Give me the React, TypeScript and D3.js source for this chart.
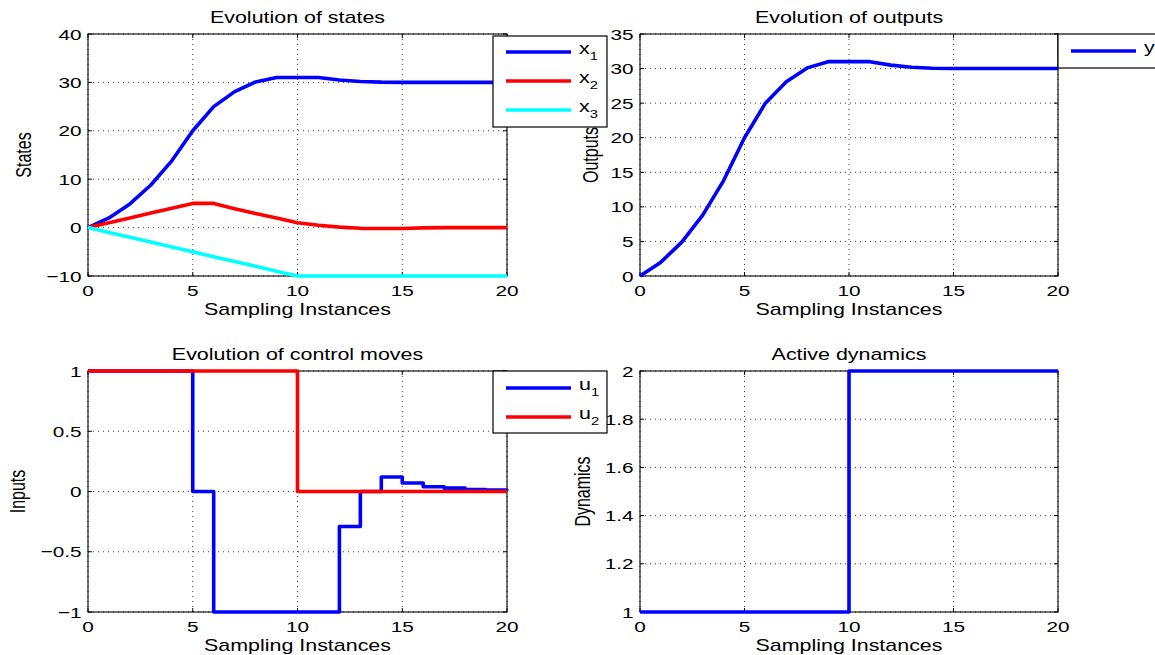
import * as d3 from "d3";
import React, { useEffect, useRef } from "react";

// sampling instances 0..20
const steps = d3.range(0, 21);

// states
const stateX1 = [0, 2, 4.9, 8.8, 13.8, 20, 25, 28.1, 30.1, 31, 31, 31, 30.5, 30.2, 30.05, 30, 30, 30, 30, 30, 30];
const stateX2 = [0, 1, 2, 3, 4, 5, 5, 3.9, 2.9, 2, 1, 0.5, 0.1, -0.15, -0.2, -0.2, -0.05, 0, 0, 0, 0];
const stateX3 = [0, -1, -2, -3, -4, -5, -6, -7, -8, -9, -10, -10, -10, -10, -10, -10, -10, -10, -10, -10, -10];

// outputs
const outputY = [0, 2, 4.9, 8.8, 13.8, 20, 25, 28.1, 30.1, 31, 31, 31, 30.5, 30.2, 30.05, 30, 30, 30, 30, 30, 30];

// control moves
const inputU1 = [1, 1, 1, 1, 1, 0, -1, -1, -1, -1, -1, -1, -0.29, 0, 0.12, 0.07, 0.04, 0.028, 0.017, 0.011, 0.008];
const inputU2 = [1, 1, 1, 1, 1, 1, 1, 1, 1, 1, 0, 0, 0, 0, 0, 0, 0, 0, 0, 0, 0];

// active dynamics
const activeDyn = [1, 1, 1, 1, 1, 1, 1, 1, 1, 1, 2, 2, 2, 2, 2, 2, 2, 2, 2, 2, 2];

const xTicks = [0, 5, 10, 15, 20];
const statesTicks = [-10, 0, 10, 20, 30, 40];
const outputsTicks = [0, 5, 10, 15, 20, 25, 30, 35];
const inputsTicks = [-1, -0.5, 0, 0.5, 1];
const dynTicks = [1, 1.2, 1.4, 1.6, 1.8, 2];

const FONT = "'Liberation Sans', Arial, Helvetica, sans-serif";
const SX = 1.34; // the original figure is stretched horizontally

const panels = [
  {
    title: "Evolution of states", ylabel: "States", labelOff: 57,
    left: 88, right: 507, top: 34, bottom: 276,
    domain: [-10, 40], ticks: statesTicks, step: false,
    series: [
      { values: stateX1, color: "#0000ff" },
      { values: stateX2, color: "#ff0000" },
      { values: stateX3, color: "#00ffff" },
    ],
  },
  {
    title: "Evolution of outputs", ylabel: "Outputs", labelOff: 42,
    left: 640, right: 1058, top: 34, bottom: 276,
    domain: [0, 35], ticks: outputsTicks, step: false,
    series: [{ values: outputY, color: "#0000ff" }],
  },
  {
    title: "Evolution of control moves", ylabel: "Inputs", labelOff: 63,
    left: 88, right: 507, top: 371, bottom: 612,
    domain: [-1, 1], ticks: inputsTicks, step: true,
    series: [
      { values: inputU1, color: "#0000ff" },
      { values: inputU2, color: "#ff0000" },
    ],
  },
  {
    title: "Active dynamics", ylabel: "Dynamics", labelOff: 50,
    left: 640, right: 1058, top: 371, bottom: 612,
    domain: [1, 2], ticks: dynTicks, step: true,
    series: [{ values: activeDyn, color: "#0000ff" }],
  },
];

const legends = [
  { left: 493, right: 607, top: 36, bottom: 127, rows: [52, 81, 110], names: ["x", "x", "x"], subs: ["1", "2", "3"], colors: ["#0000ff", "#ff0000", "#00ffff"] },
  { left: 1058, right: 1175, top: 34, bottom: 68, rows: [51], names: ["y"], subs: [""], colors: ["#0000ff"] },
  { left: 493, right: 607, top: 371, bottom: 433, rows: [388, 417], names: ["u", "u"], subs: ["1", "2"], colors: ["#0000ff", "#ff0000"] },
];

const fmt = (v: number) => String(+v.toFixed(2)).replace("-", "\u2212");

function addText(g: any, x: number, y: number, str: string, size: number, anchor: string, rotate = false) {
  return g
    .append("g")
    .attr("transform", `translate(${x},${y}) scale(${SX},1)${rotate ? " rotate(-90)" : ""}`)
    .append("text")
    .attr("text-anchor", anchor)
    .attr("font-size", size)
    .attr("font-family", FONT)
    .attr("fill", "#000")
    .text(str);
}

const App = () => {
  const ref = useRef<SVGSVGElement>(null);

  useEffect(() => {
    document.body.style.margin = "0";
    document.body.style.overflow = "hidden";
    const svg = d3.select(ref.current);
    svg.selectAll("*").remove();

    panels.forEach((p) => {
      const x = d3.scaleLinear().domain([0, 20]).range([p.left, p.right]);
      const y = d3.scaleLinear().domain(p.domain).range([p.bottom, p.top]);
      const g = svg.append("g");

      g.append("rect")
        .attr("x", p.left).attr("y", p.top)
        .attr("width", p.right - p.left).attr("height", p.bottom - p.top)
        .attr("fill", "#fff");

      // dotted grid
      xTicks.forEach((t) => {
        g.append("line")
          .attr("x1", x(t)).attr("x2", x(t)).attr("y1", p.top).attr("y2", p.bottom)
          .attr("stroke", "#222").attr("stroke-width", 0.9).attr("stroke-dasharray", "1,4");
      });
      p.ticks.forEach((t) => {
        g.append("line")
          .attr("x1", p.left).attr("x2", p.right).attr("y1", y(t)).attr("y2", y(t))
          .attr("stroke", "#222").attr("stroke-width", 0.9).attr("stroke-dasharray", "1,4");
      });

      // inward tick marks
      xTicks.forEach((t) => {
        g.append("line").attr("x1", x(t)).attr("x2", x(t)).attr("y1", p.bottom).attr("y2", p.bottom - 4).attr("stroke", "#000");
        g.append("line").attr("x1", x(t)).attr("x2", x(t)).attr("y1", p.top).attr("y2", p.top + 4).attr("stroke", "#000");
        addText(g, x(t), p.bottom + 20, fmt(t), 15.5, "middle");
      });
      p.ticks.forEach((t) => {
        g.append("line").attr("x1", p.left).attr("x2", p.left + 4).attr("y1", y(t)).attr("y2", y(t)).attr("stroke", "#000");
        g.append("line").attr("x1", p.right).attr("x2", p.right - 4).attr("y1", y(t)).attr("y2", y(t)).attr("stroke", "#000");
        addText(g, p.left - 6.5, y(t) + 5.5, fmt(t), 15.5, "end");
      });

      g.append("rect")
        .attr("x", p.left).attr("y", p.top)
        .attr("width", p.right - p.left).attr("height", p.bottom - p.top)
        .attr("fill", "none").attr("stroke", "#000").attr("stroke-width", 1.1);

      const line = d3
        .line<number>()
        .x((_, i) => x(steps[i]))
        .y((d) => y(d))
        .curve(p.step ? d3.curveStepAfter : d3.curveLinear);

      p.series.forEach((s) => {
        g.append("path")
          .attr("d", line(s.values))
          .attr("fill", "none")
          .attr("stroke", s.color)
          .attr("stroke-width", 3.6)
          .attr("stroke-linejoin", "round");
      });

      addText(g, (p.left + p.right) / 2, p.top - 11, p.title, 16, "middle");
      addText(g, (p.left + p.right) / 2, p.bottom + 39, "Sampling Instances", 16, "middle");
      addText(g, p.left - p.labelOff, (p.top + p.bottom) / 2, p.ylabel, 16, "middle", true);
    });

    legends.forEach((l) => {
      const g = svg.append("g");
      g.append("rect")
        .attr("x", l.left).attr("y", l.top)
        .attr("width", l.right - l.left).attr("height", l.bottom - l.top)
        .attr("fill", "#fff").attr("stroke", "#000").attr("stroke-width", 1.2);
      l.rows.forEach((ry, i) => {
        g.append("line")
          .attr("x1", l.left + 13).attr("x2", l.left + 78)
          .attr("y1", ry).attr("y2", ry)
          .attr("stroke", l.colors[i]).attr("stroke-width", 3.6);
        const t = addText(g, l.left + 86, ry + 2, "", 16, "start");
        t.append("tspan").text(l.names[i]);
        if (l.subs[i]) t.append("tspan").attr("font-size", 11).attr("dy", 6).text(l.subs[i]);
      });
    });
  }, []);

  return <svg ref={ref} width={1155} height={655} style={{ display: "block", background: "#fff" }} />;
};

export default App;
